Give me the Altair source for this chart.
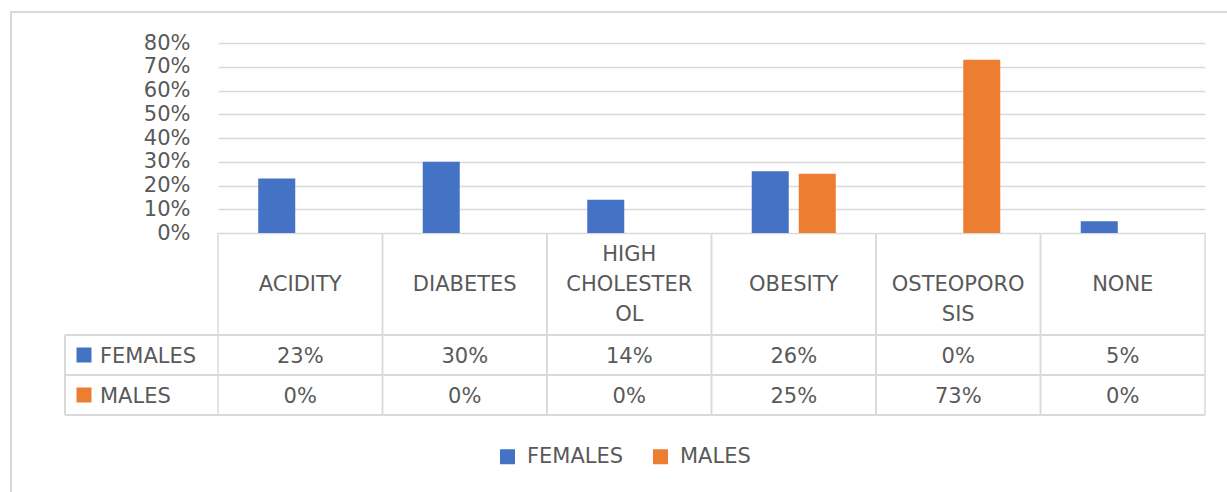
import altair as alt
import pandas as pd

CATEGORIES = ["ACIDITY", "DIABETES", "HIGH CHOLESTEROL", "OBESITY", "OSTEOPOROSIS", "NONE"]
HEADER_LINES = [["ACIDITY"], ["DIABETES"], ["HIGH", "CHOLESTER", "OL"], ["OBESITY"], ["OSTEOPORO", "SIS"], ["NONE"]]
SERIES = ["FEMALES", "MALES"]
FEMALES = [0.23, 0.30, 0.14, 0.26, 0.00, 0.05]
MALES = [0.00, 0.00, 0.00, 0.25, 0.73, 0.00]
Y_TICKS = [0.0, 0.1, 0.2, 0.3, 0.4, 0.5, 0.6, 0.7, 0.8]
COLORS = ["#4472C4", "#ED7D31"]

FONT = "DejaVu Sans"
FS = 21
TXT = "#595959"
LINE = "#d9d9d9"

rows = []
for s, vals in zip(SERIES, [FEMALES, MALES]):
    for c, v in zip(CATEGORIES, vals):
        rows.append({"category": c, "series": s, "value": v})
df = pd.DataFrame(rows)

hdr = []
for c, lines in zip(CATEGORIES, HEADER_LINES):
    start = 0 if len(lines) >= 3 else 1
    for i, t in enumerate(lines):
        hdr.append({"category": c, "slot": start + i, "text": t})
hdf = pd.DataFrame(hdr)
cdf = pd.DataFrame({"category": CATEGORIES})
sdf = pd.DataFrame({"series": SERIES})

W, H = 987, 190
xscale = alt.Scale(domain=CATEGORIES, paddingInner=0, paddingOuter=0)
xenc = alt.X("category:N", sort=CATEGORIES, scale=xscale, axis=None)
color = alt.Color("series:N",
                  scale=alt.Scale(domain=SERIES, range=COLORS),
                  legend=alt.Legend(orient="none", legendX=279, legendY=403,
                                    direction="horizontal", title=None,
                                    symbolType="square", symbolSize=225,
                                    symbolStrokeWidth=0,
                                    labelFont=FONT, labelFontSize=FS, labelColor=TXT,
                                    columnPadding=26, labelOffset=9, padding=0))

bars = alt.Chart(df).mark_bar().encode(
    x=xenc,
    xOffset=alt.XOffset("series:N", sort=SERIES,
                        scale=alt.Scale(domain=SERIES, paddingInner=10 / 47, paddingOuter=0.856)),
    y=alt.Y("value:Q", scale=alt.Scale(domain=[0, 0.8], nice=False),
            axis=alt.Axis(values=Y_TICKS, format=".0%", grid=True, gridColor=LINE,
                          gridWidth=1.5, domain=False, ticks=False, title=None,
                          labelFont=FONT, labelFontSize=FS, labelColor=TXT,
                          labelPadding=28)),
    color=color,
)

rule_style = dict(color=LINE, strokeWidth=1.5)
vlines0 = alt.Chart(cdf).mark_rule(**rule_style).encode(
    x=alt.X("category:N", sort=CATEGORIES, bandPosition=0, scale=xscale, axis=None),
    y=alt.value(190), y2=alt.value(372))
vlines1 = alt.Chart(cdf).mark_rule(**rule_style).encode(
    x=alt.X("category:N", sort=CATEGORIES, bandPosition=1, scale=xscale, axis=None),
    y=alt.value(190), y2=alt.value(372))
hl = []
for yy in [292, 332, 372]:
    hl.append(alt.Chart(cdf).mark_rule(**rule_style).encode(
        x=alt.value(-153), x2=alt.value(W), y=alt.value(yy)))
left_v = alt.Chart(cdf).mark_rule(**rule_style).encode(
    x=alt.value(-153), y=alt.value(292), y2=alt.value(372))

border_top = alt.Chart(cdf).mark_rule(**rule_style).encode(
    x=alt.value(-208), x2=alt.value(1010), y=alt.value(-31))
border_left = alt.Chart(cdf).mark_rule(**rule_style).encode(
    x=alt.value(-207), y=alt.value(-31), y2=alt.value(460))

txt_style = dict(font=FONT, fontSize=FS, color=TXT, baseline="middle", align="center")
headers = []
for k in range(3):
    headers.append(alt.Chart(hdf).transform_filter(alt.datum.slot == k).mark_text(**txt_style).encode(
        x=xenc, y=alt.value(212 + 30 * k), text="text:N"))

vals = []
for i, s in enumerate(SERIES):
    vals.append(alt.Chart(df).transform_filter(alt.datum.series == s).mark_text(**txt_style).encode(
        x=xenc, y=alt.value(314 + 40 * i),
        text=alt.Text("value:Q", format=".0%")))

row_labels = []
for i, s in enumerate(SERIES):
    base = alt.Chart(sdf).transform_filter(alt.datum.series == s)
    row_labels.append(base.mark_square(size=225, opacity=1, strokeWidth=0).encode(
        x=alt.value(-134), y=alt.value(312 + 40 * i), color=color))
    row_labels.append(base.mark_text(font=FONT, fontSize=FS, color=TXT, baseline="middle", align="left").encode(
        x=alt.value(-118), y=alt.value(314 + 40 * i), text="series:N"))

chart = alt.layer(
    border_top, border_left,
    bars, vlines0, vlines1, *hl, left_v, *headers, *vals, *row_labels
).properties(
    width=W, height=H,
    padding={"left": 218, "top": 43, "right": 22, "bottom": 259},
    autosize="none",
).configure_view(stroke=None)

chart.save("out.html", embed_options={"renderer": "svg", "actions": False})
